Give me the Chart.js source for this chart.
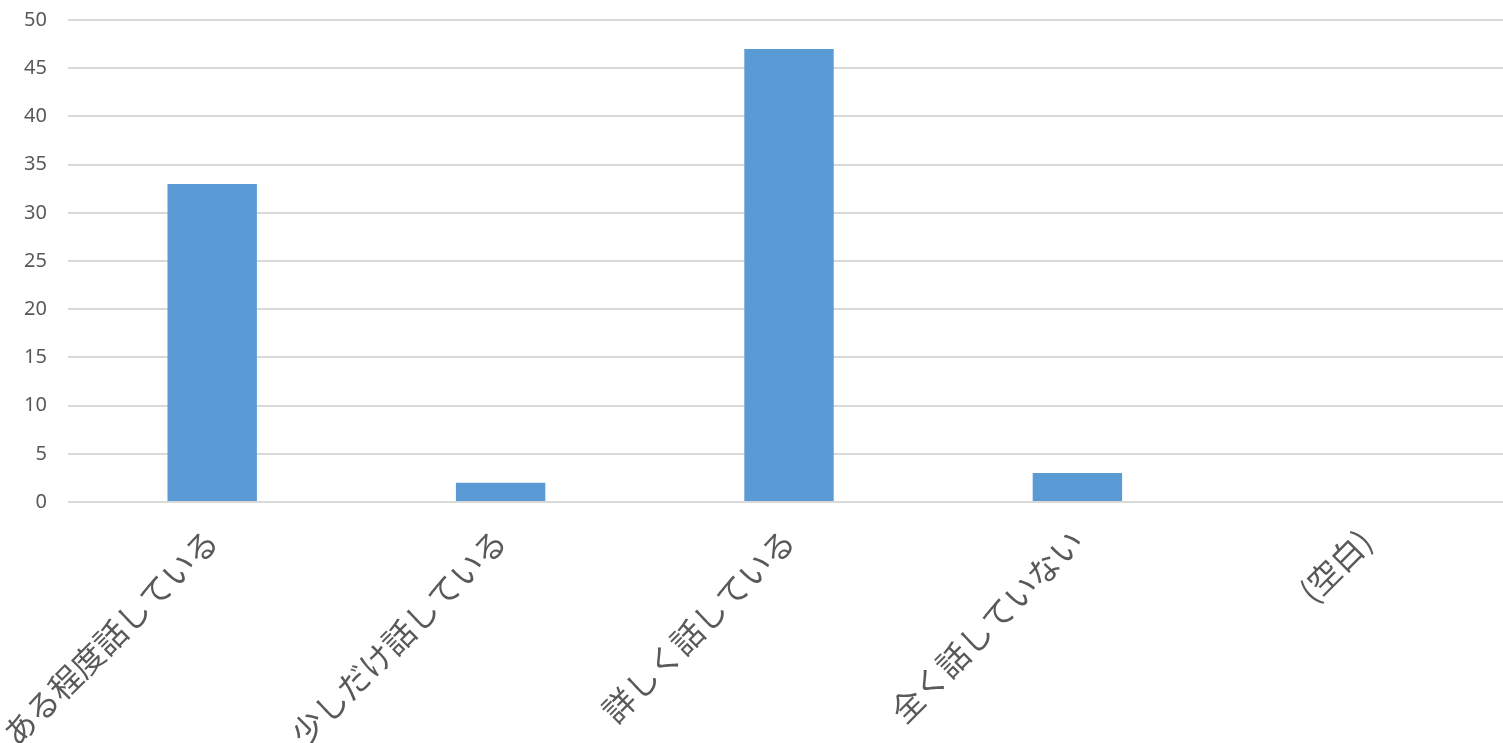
<!DOCTYPE html>
<html>
<head>
<meta charset="UTF-8">
<title>Chart</title>
<script src="https://cdn.jsdelivr.net/npm/chart.js"></script>
<style>
    html, body { margin: 0; padding: 0; overflow: hidden; background: #fff; }
    .wrap { position: relative; width: 1510px; height: 800px; }
</style>
</head>
<body>
<div class="wrap">
    <canvas id="barChart"></canvas>
</div>
<script>
const categories = ['ある程度話している', '少しだけ話している', '詳しく話している', '全く話していない', '(空白)'];
const counts = [33, 2, 47, 3, 0];
const yMax = 50;
const yStep = 5;

const ctx = document.getElementById('barChart').getContext('2d');
new Chart(ctx, {
    type: 'bar',
    data: {
        labels: categories,
        datasets: [{
            data: counts,
            backgroundColor: '#5B9BD5',
            borderWidth: 0,
            categoryPercentage: 1,
            barPercentage: 0.31
        }]
    },
    options: {
        responsive: true,
        maintainAspectRatio: false,
        animation: false,
        layout: { padding: { top: 20, left: 0, right: 0, bottom: 0 } },
        plugins: {
            legend: { display: false },
            tooltip: { enabled: false }
        },
        scales: {
            x: {
                grid: { display: false, drawTicks: false },
                border: { display: false },
                ticks: {
                    autoSkip: false,
                    minRotation: 45,
                    maxRotation: 45,
                    padding: 20,
                    color: '#595959',
                    font: { family: '"Noto Sans CJK JP", sans-serif', size: 32 }
                },
                afterFit: (scale) => {
                    scale.height = 298;
                    scale.paddingLeft = 0;
                    scale.paddingRight = 0;
                }
            },
            y: {
                min: 0,
                max: yMax,
                grid: { color: '#D9D9D9', lineWidth: 2, drawTicks: false },
                border: { display: false },
                ticks: {
                    stepSize: yStep,
                    padding: 21,
                    color: '#595959',
                    font: { family: '"Noto Sans", sans-serif', size: 20 }
                },
                afterFit: (scale) => {
                    scale.width = 68;
                    scale.paddingTop = 0;
                    scale.paddingBottom = 0;
                }
            }
        }
    }
});
</script>
</body>
</html>
